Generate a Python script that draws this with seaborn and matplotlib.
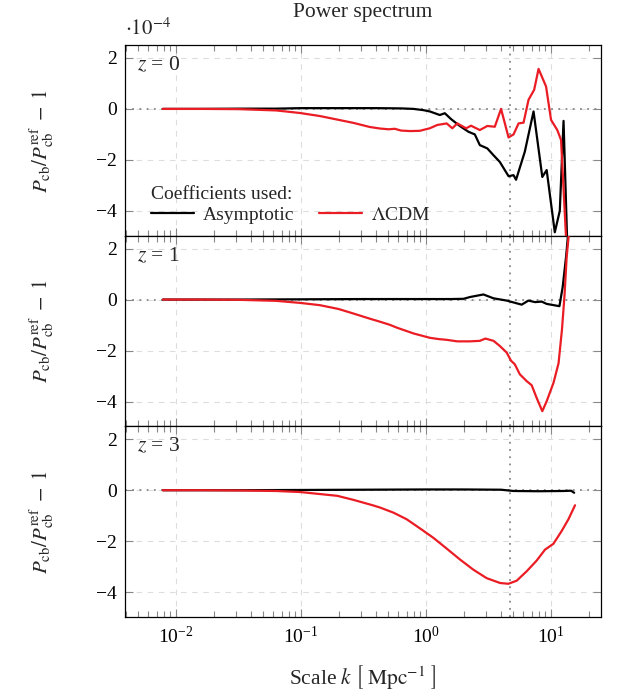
import numpy as np
import pandas as pd
import matplotlib
matplotlib.use("Agg")
import matplotlib.pyplot as plt
import matplotlib.ticker as mticker
from matplotlib.lines import Line2D
import seaborn as sns

# ---------------- data (values in units of 1e-4) ----------------
# z = 0
z0_asym_logk = [-2.106, -1.8, -1.5, -1.2, -1.0, -0.7, -0.4, -0.2, -0.1, -0.02, 0.03, 0.11, 0.15,
                0.2, 0.27, 0.34, 0.39, 0.43, 0.49, 0.54, 0.59, 0.66, 0.7, 0.72, 0.79, 0.86,
                0.93, 0.965, 1.03, 1.07, 1.1, 1.14]
z0_asym_val = [0.0, 0.0, 0.01, 0.01, 0.03, 0.03, 0.03, 0.02, 0.0, -0.05, -0.1, -0.24, -0.17,
               -0.4, -0.67, -0.9, -1.0, -1.42, -1.55, -1.82, -2.08, -2.64, -2.6, -2.78, -1.68, -0.1,
               -2.67, -2.4, -4.84, -4.0, -0.47, -7.0]
z0_lcdm_logk = [-2.106, -1.8, -1.5, -1.38, -1.2, -1.01, -0.85, -0.71, -0.58, -0.45, -0.368, -0.3,
                -0.25, -0.2, -0.128, -0.05, 0.03, 0.09, 0.165, 0.21, 0.25, 0.32, 0.36, 0.43,
                0.49, 0.55, 0.6, 0.66, 0.7, 0.74, 0.78, 0.82, 0.865, 0.9, 0.96, 1.0, 1.05,
                1.08, 1.13]
z0_lcdm_val = [0.0, 0.0, -0.01, -0.03, -0.06, -0.16, -0.28, -0.42, -0.55, -0.71, -0.77, -0.8,
               -0.78, -0.85, -0.87, -0.86, -0.76, -0.63, -0.57, -0.76, -0.57, -0.76, -0.66, -0.83,
               -0.67, -0.7, 0.0, -1.12, -1.0, -0.57, -0.54, 0.36, 0.75, 1.57, 0.88, -0.43, -0.83,
               -1.22, -6.0]

# z = 1
z1_asym_logk = [-2.106, -1.5, -1.0, -0.5, 0.0, 0.2, 0.3, 0.352, 0.459, 0.539, 0.645, 0.765,
                0.819, 0.872, 0.925, 0.965, 1.067, 1.093, 1.12, 1.139, 1.16]
z1_asym_val = [0.0, 0.0, 0.01, 0.02, 0.02, 0.02, 0.03, 0.1, 0.2, 0.05, -0.04, -0.2,
               -0.04, -0.1, -0.08, -0.17, -0.26, 0.49, 1.67, 2.7, 4.0]
z1_lcdm_logk = [-2.106, -1.8, -1.5, -1.2, -1.01, -0.85, -0.7, -0.58, -0.45, -0.368, -0.29,
                -0.235, -0.1, 0.03, 0.1, 0.165, 0.25, 0.3, 0.35, 0.43, 0.475, 0.54, 0.59,
                0.645, 0.68, 0.71, 0.75, 0.805, 0.845, 0.885, 0.93, 0.965, 1.02, 1.06, 1.087,
                1.107, 1.125, 1.145, 1.16]
z1_lcdm_val = [0.0, 0.0, -0.01, -0.05, -0.13, -0.22, -0.37, -0.55, -0.75, -0.87, -0.99,
               -1.1, -1.33, -1.5, -1.55, -1.58, -1.64, -1.64, -1.64, -1.62, -1.53, -1.62, -1.82,
               -2.08, -2.4, -2.54, -2.93, -3.2, -3.36, -3.86, -4.38, -3.99, -3.26, -2.5, -1.2,
               0.1, 1.67, 2.7, 4.0]

# z = 3
z3_asym_logk = [-2.106, -1.5, -1.0, -0.5, 0.0, 0.3, 0.6, 0.7, 0.9, 1.1, 1.16, 1.185]
z3_asym_val = [0.0, 0.0, 0.01, 0.02, 0.03, 0.03, 0.02, -0.03, -0.04, -0.03, -0.02, -0.1]
z3_lcdm_logk = [-2.106, -1.8, -1.5, -1.2, -1.01, -0.71, -0.58, -0.42, -0.368, -0.261, -0.155,
                -0.048, 0.059, 0.165, 0.272, 0.379, 0.485, 0.592, 0.659, 0.725, 0.805, 0.885,
                0.952, 1.019, 1.085, 1.139, 1.192]
z3_lcdm_val = [0.0, 0.0, -0.01, -0.03, -0.07, -0.22, -0.38, -0.6, -0.68, -0.88, -1.14,
               -1.5, -1.87, -2.29, -2.72, -3.12, -3.45, -3.64, -3.67, -3.55, -3.18, -2.76,
               -2.33, -2.1, -1.6, -1.14, -0.59]

redshifts = ["0", "1", "3"]
models = ["Asymptotic", r"$\Lambda$CDM"]
k_marker = 4.7  # vertical reference scale
yticks = [-4, -2, 0, 2]
xticks = [1e-2, 1e-1, 1e0, 1e1]

series = {
    "0": [(z0_asym_logk, z0_asym_val), (z0_lcdm_logk, z0_lcdm_val)],
    "1": [(z1_asym_logk, z1_asym_val), (z1_lcdm_logk, z1_lcdm_val)],
    "3": [(z3_asym_logk, z3_asym_val), (z3_lcdm_logk, z3_lcdm_val)],
}

# ---------------- style ----------------
sns.set_style("ticks")
plt.rcParams.update({
    "font.family": ["Liberation Serif", "DejaVu Serif"],
    "mathtext.fontset": "stix",
    "font.size": 13,
    "axes.linewidth": 0.9,
    "xtick.direction": "in",
    "ytick.direction": "in",
    "xtick.color": "#888888",
    "ytick.color": "#888888",
    "xtick.labelcolor": "black",
    "ytick.labelcolor": "black",
    "xtick.labelsize": 14,
    "ytick.labelsize": 14,
})

palette = {models[0]: "#000000", models[1]: "#ea1c24"}

fig, axes = plt.subplots(3, 1, figsize=(6.2, 6.95), dpi=100, sharex=True)
fig.subplots_adjust(left=0.2016, right=0.969, top=0.935, bottom=0.112, hspace=0)

for ax, z in zip(axes, redshifts):
    frames = []
    for name, (lk, v) in zip(models, series[z]):
        frames.append(pd.DataFrame({"k": 10 ** np.asarray(lk), "v": v, "model": name}))
    df = pd.concat(frames, ignore_index=True)
    ax.grid(True, which="major", color="#dddddd", linestyle=(0, (5, 5)), linewidth=0.8)
    ax.axhline(0, color="#888888", linestyle=(0, (1, 3)), linewidth=1.3, zorder=1)
    ax.axvline(k_marker, color="#888888", linestyle=(0, (1, 3)), linewidth=1.3, zorder=1)
    sns.lineplot(data=df, x="k", y="v", hue="model", palette=palette, estimator=None,
                 sort=False, linewidth=1.6, ax=ax, legend=False, zorder=3)
    ax.set_xscale("log")
    ax.set_xlim(0.0039, 25)
    ax.set_ylim(-4.98, 2.5)
    ax.set_yticks(yticks)
    ax.yaxis.set_major_formatter(mticker.FuncFormatter(lambda x, p: f"{x:.0f}".replace("-", "\u2212")))
    ax.set_xticks(xticks)
    ax.xaxis.set_minor_locator(mticker.LogLocator(base=10, subs=np.arange(2, 10), numticks=20))
    ax.tick_params(which="both", top=True, right=True)
    ax.tick_params(which="major", length=6, width=0.8, pad=6)
    ax.tick_params(which="minor", length=4, width=0.8)
    ax.set_xlabel("")
    ax.set_ylabel(r"$P_{\rm cb}/P_{\rm cb}^{\rm ref}\;-\;1$", fontsize=15)
    ax.yaxis.set_label_coords(-0.145, 0.5)
    ax.text(0.025, 0.945, rf"$z$ = {z}", transform=ax.transAxes, fontsize=15.5,
            va="top", ha="left")
    for sp in ax.spines.values():
        sp.set_color("black")

axes[-1].set_xlabel(r"Scale $k\ \left[\;\mathrm{Mpc}^{-1}\;\right]$", fontsize=15.5, labelpad=12)

# legend in top panel
handles = [Line2D([], [], color=palette[m], linewidth=1.6) for m in models]
leg = axes[0].legend(handles, models, title="Coefficients used:", loc="lower left",
                     bbox_to_anchor=(0.03, 0.0), ncol=2, frameon=False, fontsize=14,
                     title_fontsize=14, handlelength=2.2, columnspacing=1.3,
                     handletextpad=0.45, alignment="left", borderaxespad=0.2,
                     labelspacing=0.2)

axes[0].text(0.0, 1.025, r"$\cdot 10^{-4}$", transform=axes[0].transAxes, fontsize=15,
             ha="left", va="bottom")
fig.text(363 / 620, 1 - 12 / 695, "Power spectrum", ha="center", va="center", fontsize=15.5)

fig.savefig("out.png", dpi=100)
